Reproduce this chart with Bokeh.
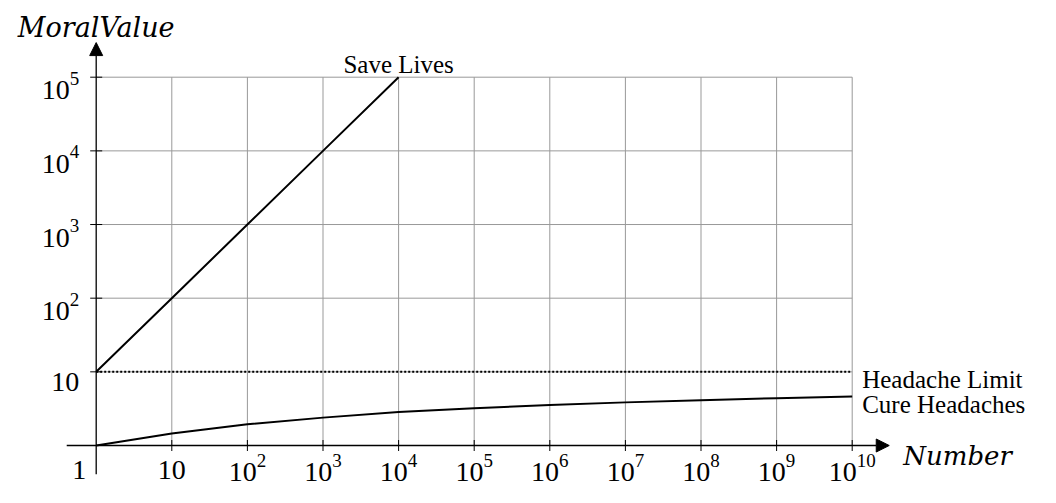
import math
from bokeh.plotting import figure
from bokeh.models import Range1d, ColumnDataSource, Arrow, NormalHead
from bokeh.core.properties import value
from bokeh.embed import file_html
from bokeh.resources import INLINE

# ---------------- data ----------------
x_tick_values = [1e1, 1e2, 1e3, 1e4, 1e5, 1e6, 1e7, 1e8, 1e9, 1e10]
x_tick_base = ["10", "10", "10", "10", "10", "10", "10", "10", "10", "10"]
x_tick_sup = ["", "2", "3", "4", "5", "6", "7", "8", "9", "10"]

y_tick_values = [1e1, 1e2, 1e3, 1e4, 1e5]
y_tick_base = ["10", "10", "10", "10", "10"]
y_tick_sup = ["", "2", "3", "4", "5"]

origin_label = "1"

save_lives_x = [1, 1e1, 1e2, 1e3, 1e4]
save_lives_y = [1e1, 1e2, 1e3, 1e4, 1e5]

headache_limit_x = [1, 1e10]
headache_limit_y = [10, 10]

cure_x = [1, 1e1, 1e2, 1e3, 1e4, 1e5, 1e6, 1e7, 1e8, 1e9, 1e10]
cure_y = [1.0, 1.46, 1.94, 2.39, 2.84, 3.21, 3.55, 3.85, 4.13, 4.39, 4.62]

x_min, x_max = 1, 1e10
y_min, y_max = 1, 1e5

# ---------------- layout / style ----------------
W, H = 1040, 487
PX_DEC_X = 75.6
X0_PX = 95.7      # canvas px of x = 1
Y0_PX = 445.0     # canvas px (from top) of y = 1
YTOP_PX = 76.7    # canvas px of y = 1e5
PX_DEC_Y = (Y0_PX - YTOP_PX) / 5

x_start = 10 ** (-X0_PX / PX_DEC_X)
x_end = 10 ** ((W - X0_PX) / PX_DEC_X)
y_start = 10 ** (-(H - Y0_PX) / PX_DEC_Y)
y_end = 10 ** (Y0_PX / PX_DEC_Y)

SERIF = value("Liberation Serif")
ITALIC = value("DejaVu Serif")
MAIN_PX = 28
SUP_PX = 19
DIGIT_W = 0.5 * MAIN_PX
SUP_DIGIT_W = 0.5 * SUP_PX
LABEL_PX = "25px"

p = figure(width=W, height=H, x_axis_type="log", y_axis_type="log",
           x_range=Range1d(x_start, x_end), y_range=Range1d(y_start, y_end),
           x_axis_location=None, y_axis_location=None,
           toolbar_location=None, output_backend="svg", min_border=0)
p.grid.visible = False
p.outline_line_color = None
p.background_fill_color = "white"
p.border_fill_color = "white"

# ---- grid ----
p.segment(x0=x_tick_values, y0=[y_min] * len(x_tick_values),
          x1=x_tick_values, y1=[y_max] * len(x_tick_values),
          line_color="#999999", line_width=1)
p.segment(x0=[x_min] * len(y_tick_values), y0=y_tick_values,
          x1=[x_max] * len(y_tick_values), y1=y_tick_values,
          line_color="#999999", line_width=1)

# ---- series ----
p.line(headache_limit_x, headache_limit_y, line_color="black", line_width=2,
       line_dash="2 2")
p.line(save_lives_x, save_lives_y, line_color="black", line_width=2)
p.line(cure_x, cure_y, line_color="black", line_width=2)

# ---- axes with arrows ----
OVER_BACK = 10 ** 0.39
OVER_FWD_X = 10 ** 0.49
OVER_FWD_Y = 10 ** 0.47
p.add_layout(Arrow(end=NormalHead(size=13, fill_color="black", line_color="black", line_width=1),
                   x_start=x_min / OVER_BACK, y_start=y_min,
                   x_end=x_max * OVER_FWD_X, y_end=y_min,
                   line_color="black", line_width=1.3))
p.add_layout(Arrow(end=NormalHead(size=13, fill_color="black", line_color="black", line_width=1),
                   x_start=x_min, y_start=y_min / OVER_BACK,
                   x_end=x_min, y_end=y_max * OVER_FWD_Y,
                   line_color="black", line_width=1.3))

# ---- tick marks ----
p.scatter(x=x_tick_values, y=[y_min] * len(x_tick_values), marker="dash",
          angle=math.pi / 2, size=11, line_color="black", line_width=1)
p.scatter(x=[x_min] * len(y_tick_values), y=y_tick_values, marker="dash",
          size=12, line_color="black", line_width=1)

# ---- x tick labels ----
xb_off, xb_base, xs_off, xs_base, xb_align = [], [], [], [], []
for b, s in zip(x_tick_base, x_tick_sup):
    if s:
        total = DIGIT_W * len(b) + SUP_DIGIT_W * len(s)
        edge = -total / 2 + DIGIT_W * len(b)
        xb_off.append(edge); xb_align.append("right"); xb_base.append(26)
        xs_off.append(edge); xs_base.append(15)
    else:
        xb_off.append(0); xb_align.append("center"); xb_base.append(24)
        xs_off.append(0); xs_base.append(15)
src_x = ColumnDataSource(dict(x=x_tick_values, y=[y_min] * len(x_tick_values),
                              base=x_tick_base, sup=x_tick_sup,
                              bo=xb_off, by=xb_base, ba=xb_align, so=xs_off, sy=xs_base))
p.text(x="x", y="y", text="base", x_offset="bo", y_offset="by", text_align="ba",
       text_baseline="alphabetic", text_font=SERIF, text_font_size=f"{MAIN_PX}px",
       text_color="black", source=src_x)
p.text(x="x", y="y", text="sup", x_offset="so", y_offset="sy", text_align="left",
       text_baseline="alphabetic", text_font=SERIF, text_font_size=f"{SUP_PX}px",
       text_color="black", source=src_x)

# ---- y tick labels ----
Y_EDGE = -17
yb_off, yb_base, ys_off, ys_base = [], [], [], []
for b, s in zip(y_tick_base, y_tick_sup):
    if s:
        edge = Y_EDGE - SUP_DIGIT_W * len(s)
        yb_off.append(edge); yb_base.append(13)
        ys_off.append(edge); ys_base.append(1)
    else:
        yb_off.append(Y_EDGE); yb_base.append(10)
        ys_off.append(Y_EDGE); ys_base.append(0)
src_y = ColumnDataSource(dict(x=[x_min] * len(y_tick_values), y=y_tick_values,
                              base=y_tick_base, sup=y_tick_sup,
                              bo=yb_off, by=yb_base, so=ys_off, sy=ys_base))
p.text(x="x", y="y", text="base", x_offset="bo", y_offset="by", text_align="right",
       text_baseline="alphabetic", text_font=SERIF, text_font_size=f"{MAIN_PX}px",
       text_color="black", source=src_y)
p.text(x="x", y="y", text="sup", x_offset="so", y_offset="sy", text_align="left",
       text_baseline="alphabetic", text_font=SERIF, text_font_size=f"{SUP_PX}px",
       text_color="black", source=src_y)

# origin label
p.text(x=[x_min], y=[y_min], text=[origin_label], x_offset=-17, y_offset=24,
       text_align="center", text_baseline="alphabetic", text_font=SERIF,
       text_font_size=f"{MAIN_PX}px", text_color="black")

# ---- series labels ----
p.text(x=[save_lives_x[-1]], y=[save_lives_y[-1]], text=["Save Lives"],
       y_offset=-13, text_align="center", text_baseline="alphabetic",
       text_font=SERIF, text_font_size=LABEL_PX, text_color="black")
p.text(x=[headache_limit_x[-1]], y=[headache_limit_y[-1]], text=["Headache Limit"],
       x_offset=10, y_offset=8, text_align="left", text_baseline="alphabetic",
       text_font=SERIF, text_font_size=LABEL_PX, text_color="black")
p.text(x=[cure_x[-1]], y=[cure_y[-1]], text=["Cure Headaches"],
       x_offset=10, y_offset=8, text_align="left", text_baseline="alphabetic",
       text_font=SERIF, text_font_size=LABEL_PX, text_color="black")

# ---- axis titles ----
p.text(x=[x_max * OVER_FWD_X], y=[y_min], text=["Number"],
       x_offset=14, y_offset=10, text_align="left", text_baseline="alphabetic",
       text_font=ITALIC, text_font_style="italic", text_font_size="26px", text_color="black")
p.text(x=[x_min], y=[y_max * OVER_FWD_Y], text=["MoralValue"],
       y_offset=-15, text_align="center", text_baseline="alphabetic",
       text_font=ITALIC, text_font_style="italic", text_font_size="27px", text_color="black")

open("out.html", "w").write(file_html(p, INLINE))
